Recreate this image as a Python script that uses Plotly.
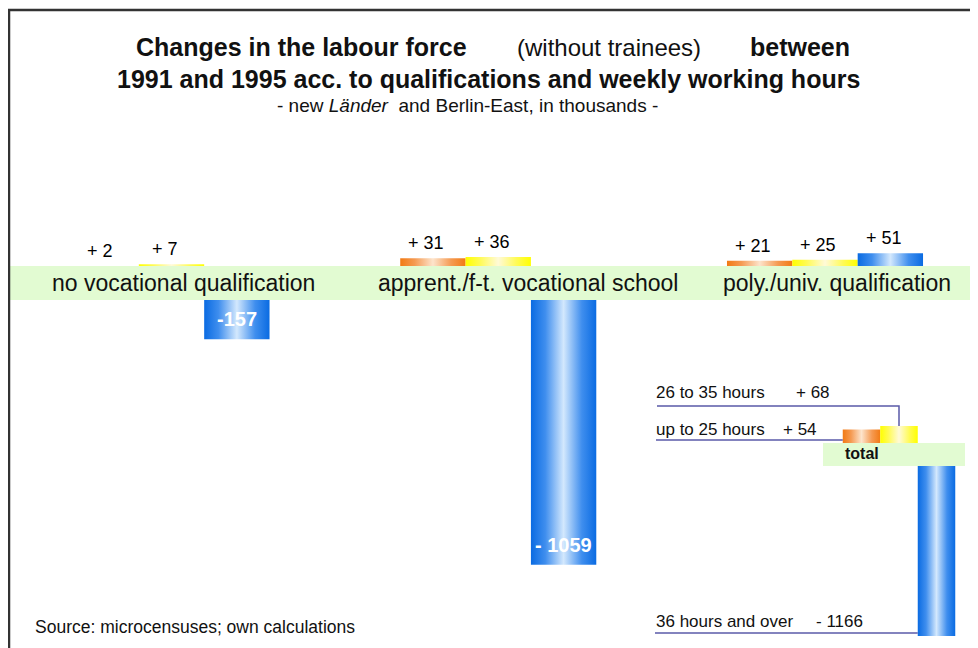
import plotly.graph_objects as go

# ---------------- data (thousands) ----------------
groups = ["no vocational qualification", "apprent./f-t. vocational school", "poly./univ. qualification"]
hour_classes = ["up to 25 hours", "26 to 35 hours", "36 hours and over"]
up_to_25 = [2, 31, 21]
h26_to_35 = [7, 36, 25]
h36_over = [-157, -1059, 51]
total_values = [54, 68, -1166]          # up to 25, 26-35, 36+
group_labels = [["+ 2", "+ 7", "-157"], ["+ 31", "+ 36", "- 1059"], ["+ 21", "+ 25", "+ 51"]]
total_labels = ["+ 54", "+ 68", "- 1166"]

# ---------------- geometry helpers (reference-pixel based) ----------------
OFF = 8                      # page body margin
WF, HF, BOT = 970, 640, 12   # figure size
PHF = HF - BOT               # plot height in px
K = 0.25                     # px per thousand
Y0 = 266                     # reference px row of band top (value 0 of main groups)
XU, X0PX = 326.75, 171.5     # px per group unit, px of group 0 centre


def py2y(py):
    return (Y0 - py) / K


def px2x(px):
    return (px - X0PX) / XU


def pxp(px):
    return (px - OFF) / WF


def pyp(py):
    return 1 - (py - OFF) / PHF


FONT = "Liberation Sans, Arial, Helvetica, sans-serif"
BLUE = [[0, "#0a6be2"], [0.22, "#3f8eee"], [0.5, "#d3e8fd"], [0.78, "#3f8eee"], [1, "#0a6be2"]]
ORANGE = [[0, "#f27a14"], [0.22, "#f59a52"], [0.5, "#fde4cc"], [0.78, "#f59a52"], [1, "#f27a14"]]
YELLOW = [[0, "#ffff00"], [0.22, "#fffb55"], [0.5, "#fffad8"], [0.78, "#fffb55"], [1, "#ffff00"]]
SCALES = [ORANGE, YELLOW, BLUE]

BAR_W = 0.2
NEG_BASE = py2y(300)
TOT_X = px2x(899)
TOT_W = 37.5 / XU
TOT_POS_BASE = py2y(443)
TOT_NEG_BASE = py2y(466)
GROUP_TEXT_PX = [183, 528, 837]

fig = go.Figure()


def add_bar(xc, w, base, v, cs):
    x0, x1 = xc - w / 2, xc + w / 2
    y1 = base + v
    fig.add_trace(go.Scatter(
        x=[x0, x1, x1, x0, x0], y=[base, base, y1, y1, base],
        mode="lines", fill="toself", line=dict(width=0, color="rgba(0,0,0,0)"),
        fillgradient=dict(type="horizontal", colorscale=cs),
        hoverinfo="skip", showlegend=False))


annotations = []

# main groups
series = [up_to_25, h26_to_35, h36_over]
for gi, gname in enumerate(groups):
    for si in range(3):
        v = series[si][gi]
        xc = gi + (si - 1) * BAR_W
        base = 0 if v >= 0 else NEG_BASE
        add_bar(xc, BAR_W, base, v, SCALES[si])
        if v >= 0:
            annotations.append(dict(x=xc - 0.02, y=base + v, xref="x", yref="y", text=group_labels[gi][si],
                                    showarrow=False, yanchor="bottom", yshift=3,
                                    font=dict(size=18, color="#000", family=FONT)))
        else:
            annotations.append(dict(x=xc, y=base + v, xref="x", yref="y", text="<b>%s</b>" % group_labels[gi][si],
                                    showarrow=False, yanchor="bottom", yshift=7,
                                    font=dict(size=20, color="#fff", family=FONT)))
    annotations.append(dict(x=px2x(GROUP_TEXT_PX[gi]), y=(0 + NEG_BASE) / 2, xref="x", yref="y",
                            text=gname, showarrow=False,
                            font=dict(size=23, color="#111", family=FONT)))

# total group
for si in range(3):
    v = total_values[si]
    xc = TOT_X + (si - 1) * TOT_W
    base = TOT_POS_BASE if v >= 0 else TOT_NEG_BASE
    add_bar(xc, TOT_W, base, v, SCALES[si])

shapes = [
    # main band
    dict(type="rect", xref="paper", yref="y", x0=pxp(10), x1=pxp(976), y0=0, y1=NEG_BASE,
         fillcolor="#e2fbd2", line=dict(width=0), layer="below"),
    # total band
    dict(type="rect", xref="paper", yref="y", x0=pxp(823), x1=pxp(965), y0=TOT_POS_BASE, y1=TOT_NEG_BASE,
         fillcolor="#e2fbd2", line=dict(width=0), layer="below"),
    # frame
    dict(type="line", xref="paper", yref="paper", x0=pxp(8), x1=pxp(980), y0=pyp(10), y1=pyp(10),
         line=dict(color="#333", width=2.5)),
    dict(type="line", xref="paper", yref="paper", x0=pxp(9), x1=pxp(9), y0=pyp(9), y1=pyp(650),
         line=dict(color="#333", width=2.5)),
]

LEAD = dict(color="#5a5aa8", width=1.5)
yx = TOT_X
shapes.append(dict(type="path", xref="x", yref="y",
                   path="M %f,%f L %f,%f L %f,%f" % (px2x(657), py2y(406), yx, py2y(406), yx,
                                                      TOT_POS_BASE + total_values[1]),
                   line=LEAD))
shapes.append(dict(type="line", xref="x", yref="y", x0=px2x(656), x1=TOT_X - 1.5 * TOT_W,
                   y0=py2y(440), y1=py2y(440), line=LEAD))
shapes.append(dict(type="line", xref="x", yref="y", x0=px2x(655), x1=TOT_X + 0.5 * TOT_W,
                   y0=py2y(633), y1=py2y(633), line=LEAD))


def pa(text, px, py, size=17, anchor="left", bold=False, color="#111"):
    t = "<b>%s</b>" % text if bold else text
    annotations.append(dict(x=pxp(px), y=pyp(py), xref="paper", yref="paper", text=t, showarrow=False,
                            xanchor=anchor, yanchor="middle", font=dict(size=size, color=color, family=FONT)))


pa(hour_classes[1], 654, 392)
pa(total_labels[1], 794, 392)
pa(hour_classes[0], 654, 429)
pa(total_labels[0], 781, 429)
pa(hour_classes[2], 654, 621)
pa(total_labels[2], 814, 621)
pa("total", 862, 453, size=16, anchor="center", bold=True)

# titles
pa("Changes in the labour force", 301, 47, size=25, anchor="center", bold=True)
pa("(without trainees)", 609, 47, size=24, anchor="center")
pa("between", 800, 47, size=25, anchor="center", bold=True)
pa("1991 and 1995 acc. to qualifications and weekly working hours", 488, 79, size=25, anchor="center", bold=True)
pa("- new <i>Länder</i>&nbsp; and Berlin-East, in thousands -", 467, 106, size=19, anchor="center")
pa("Source: microcensuses; own calculations", 33, 627, size=17.5)

fig.update_layout(
    width=WF, height=HF,
    margin=dict(l=0, r=0, t=0, b=BOT),
    paper_bgcolor="white", plot_bgcolor="white",
    xaxis=dict(range=[px2x(OFF), px2x(OFF + WF)], visible=False, fixedrange=True),
    yaxis=dict(range=[py2y(OFF + PHF), py2y(OFF)], visible=False, fixedrange=True),
    shapes=shapes, annotations=annotations, showlegend=False,
)

fig.write_html("out.html")
